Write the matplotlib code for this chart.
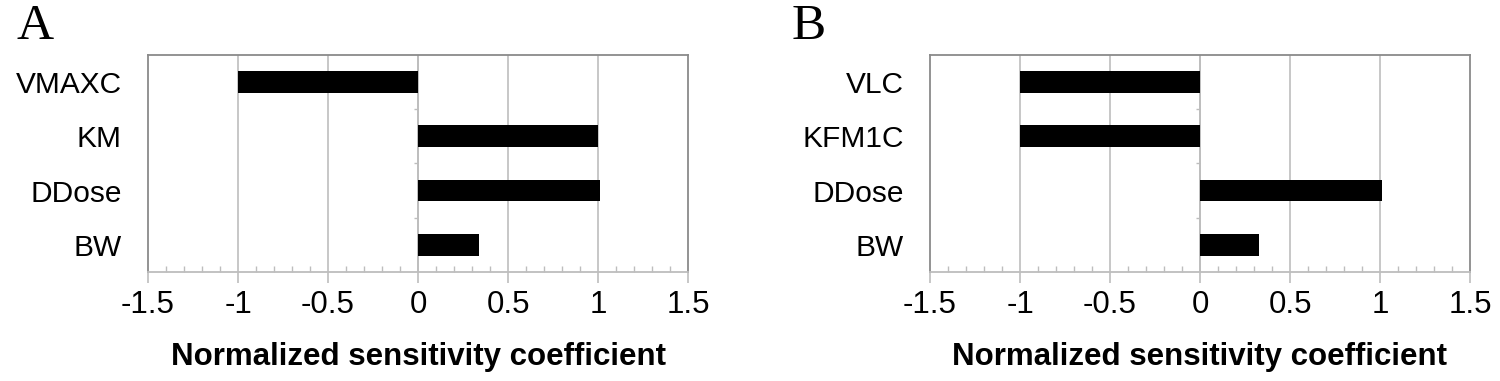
import numpy as np
import matplotlib
matplotlib.use("Agg")
import matplotlib.pyplot as plt
from matplotlib.ticker import MultipleLocator, FixedFormatter, FixedLocator

plt.rcParams['font.family'] = ['Liberation Sans', 'DejaVu Sans']

# panel A
cats_a = ['VMAXC', 'KM', 'DDose', 'BW']
vals_a = [-1.0, 1.0, 1.01, 0.34]
# panel B
cats_b = ['VLC', 'KFM1C', 'DDose', 'BW']
vals_b = [-1.0, -1.0, 1.01, 0.33]

xticks = [-1.5, -1, -0.5, 0, 0.5, 1, 1.5]
xticklabels = ['-1.5', '-1', '-0.5', '0', '0.5', '1', '1.5']
xlabel = 'Normalized sensitivity coefficient'

frame_col = '#8a8a8a'
grid_col = '#bdbdbd'

fig = plt.figure(figsize=(15, 3.81), dpi=100)


def panel(rect, cats, vals, letter, letter_x):
    ax = fig.add_axes(rect)
    y = np.arange(len(cats))
    ax.barh(y, vals, height=0.4, color='black', zorder=3)
    ax.set_xlim(-1.5, 1.5)
    ax.set_ylim(len(cats) - 0.5, -0.5)

    # vertical grid
    for xv in xticks[1:-1]:
        ax.axvline(xv, color=grid_col, lw=1.2, zorder=1)

    ax.xaxis.set_major_locator(FixedLocator(xticks))
    ax.xaxis.set_major_formatter(FixedFormatter(xticklabels))
    ax.xaxis.set_minor_locator(MultipleLocator(0.1))
    ax.tick_params(axis='x', which='major', direction='out', length=8,
                   width=1.2, color=grid_col, labelsize=22.5, pad=5)
    ax.tick_params(axis='x', which='minor', direction='in', length=4,
                   width=1, color=grid_col)
    ax.set_yticks(y)
    ax.set_yticklabels(cats)
    ax.tick_params(axis='y', length=0, labelsize=21.5, pad=19)

    # category separator ticks on the zero line
    ax.hlines(y[:-1] + 0.5, -0.025, 0, color=grid_col, lw=1, zorder=2)
    ax.axvline(0, color=grid_col, lw=1.2, zorder=2)

    for s in ax.spines.values():
        s.set_color(frame_col)
        s.set_linewidth(1.3)
    ax.spines['bottom'].set_color(grid_col)

    ax.set_xlabel(xlabel, fontsize=22.5, fontweight='bold', labelpad=16)
    fig.text(letter_x, 0.93, letter, fontsize=37, family='Liberation Serif',
             ha='left', va='center')
    return ax


panel([0.0987, 0.286, 0.36, 0.570], cats_a, vals_a, 'A', 0.011)
panel([0.62, 0.286, 0.36, 0.570], cats_b, vals_b, 'B', 0.528)

fig.savefig('out.png', dpi=100)
